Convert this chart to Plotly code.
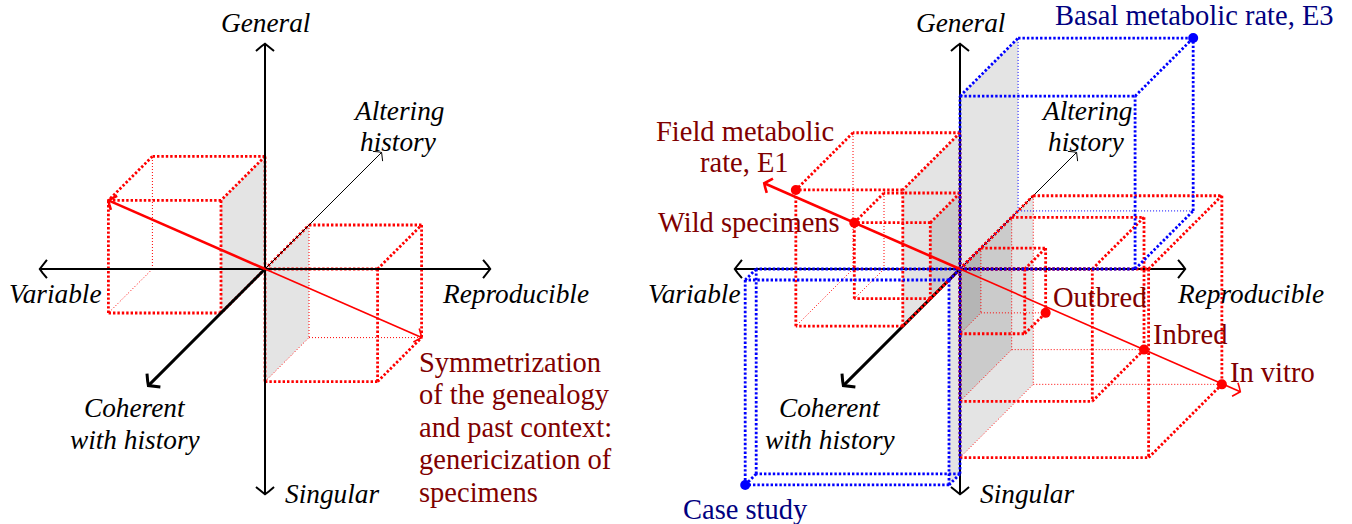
import math
import plotly.graph_objects as go

# ---------------- data ----------------
# 3D positions (units) of the box corners that sit opposite the origin.
left_box_x = [-2.0, 2.0]
left_box_y = [2.0, -2.0]
left_box_z = [-2.0, 2.0]
left_arrow_from = [-2.0, 2.0, -2.0]
left_arrow_to = [2.0, -2.0, 2.0]

right_labels = ["Field metabolic rate, E1", "Wild specimens", "Outbred", "Inbred",
                "In vitro", "Basal metabolic rate, E3", "Case study"]
right_kind = ["line", "line", "line", "line", "line", "extreme", "extreme"]
right_x = [-1.9, -1.35, 1.15, 2.35, 3.35, 3.11, -3.62]
right_y = [2.42, 1.35, -1.15, -2.35, -3.35, 3.07, -3.64]
right_z = [-2.6, -1.35, 0.95, 2.35, 3.33, 2.64, -0.5]
right_arrow_from = [-2.5, 2.5, -2.5]
right_arrow_to = [3.58, -3.58, 3.58]

axis_names = ["General", "Singular", "Variable", "Reproducible", "Coherent with history", "Altering history"]
left_caption = ["Symmetrization", "of the genealogy", "and past context:",
                "genericization of", "specimens"]

# ---------------- projection / styling ----------------
U = 56.3      # px per unit along X and Y
DZ = 22.0     # px per unit of depth (right and up)
AXIS_HALF = 4.0
DEPTH_HALF = 5.3
LEFT_O = (265.0, 269.0)
RIGHT_O = (960.0, 269.0)

RED = "#ff0000"
BLUE = "#0000ff"
DARKRED = "#800000"
DARKBLUE = "#000080"
FONT = "Liberation Serif"
KIND_COLOR = {"line": RED, "extreme": BLUE}
KIND_TEXT = {"line": DARKRED, "extreme": DARKBLUE}
ROMAN = 28.5
ITAL = 27.3

fig = go.Figure()


def proj(o, x, y, z):
    return (o[0] + x * U + z * DZ, o[1] - y * U - z * DZ)


def add_path(xs, ys, color, width, dash="solid"):
    fig.add_trace(go.Scatter(x=xs, y=ys, mode="lines",
                             line=dict(color=color, width=width, dash=dash),
                             hoverinfo="skip", showlegend=False))


def gray_face(o, a, b, c):
    pts = [proj(o, 0, 0, 0), proj(o, 0, b, 0), proj(o, 0, b, c), proj(o, 0, 0, c)]
    xs = [p[0] for p in pts] + [pts[0][0]]
    ys = [p[1] for p in pts] + [pts[0][1]]
    fig.add_trace(go.Scatter(x=xs, y=ys, mode="lines", line=dict(width=0, color="rgba(0,0,0,0)"),
                             fill="toself", fillcolor="rgba(0,0,0,0.105)",
                             hoverinfo="skip", showlegend=False))


def box(o, a, b, c, color, thin_hidden=True):
    xs_, ys_, zs_ = [0, a], [0, b], [0, c]
    hidden = (min(0, a), min(0, b), max(0, c))
    thick_x, thick_y, thin_x, thin_y = [], [], [], []
    corners = [(x, y, z) for x in xs_ for y in ys_ for z in zs_]
    seen = set()
    for p in corners:
        for q in corners:
            diff = sum(1 for i in range(3) if p[i] != q[i])
            if diff != 1:
                continue
            key = tuple(sorted([p, q]))
            if key in seen:
                continue
            seen.add(key)
            p1 = proj(o, *p)
            p2 = proj(o, *q)
            if thin_hidden and (p == hidden or q == hidden):
                thin_x += [p1[0], p2[0], None]
                thin_y += [p1[1], p2[1], None]
            else:
                thick_x += [p1[0], p2[0], None]
                thick_y += [p1[1], p2[1], None]
    if thin_x:
        add_path(thin_x, thin_y, color, 1.0, dash="1px,2px")
    add_path(thick_x, thick_y, color, 2.8, dash="2.4px,2px")


def arrow_head(tip, frm, color, width, scale=1.0):
    dx, dy = tip[0] - frm[0], tip[1] - frm[1]
    L = math.hypot(dx, dy)
    ux, uy = dx / L, dy / L
    nx, ny = -uy, ux
    shape = [(6.8, 8.6), (5.0, 6.6), (2.6, 3.6), (0.0, 0.0)]
    xs, ys = [], []
    for s in (1, -1):
        for back, side in (shape if s == 1 else shape[::-1]):
            xs.append(tip[0] - ux * back * scale + nx * side * s * scale)
            ys.append(tip[1] - uy * back * scale + ny * side * s * scale)
    add_path(xs, ys, color, width)


def arrow(p_from, p_to, color, width, scale=1.0, both=False):
    add_path([p_from[0], p_to[0]], [p_from[1], p_to[1]], color, width)
    arrow_head(p_to, p_from, color, width, scale)
    if both:
        arrow_head(p_from, p_to, color, width, scale)


def axes(o):
    arrow(proj(o, -AXIS_HALF, 0, 0), proj(o, AXIS_HALF, 0, 0), "black", 2.0, 1.05, both=True)
    arrow(proj(o, 0, -AXIS_HALF, 0), proj(o, 0, AXIS_HALF, 0), "black", 2.0, 1.05, both=True)
    arrow(proj(o, 0, 0, 0), proj(o, 0, 0, -DEPTH_HALF), "black", 3.0, 1.1)
    arrow(proj(o, 0, 0, 0), proj(o, 0, 0, DEPTH_HALF), "black", 1.0, 0.8)


# ---------------- left panel ----------------
for a, b, c in zip(left_box_x, left_box_y, left_box_z):
    gray_face(LEFT_O, a, b, c)
for a, b, c in zip(left_box_x, left_box_y, left_box_z):
    box(LEFT_O, a, b, c, RED)
axes(LEFT_O)
o0 = proj(LEFT_O, 0, 0, 0)
arrow(o0, proj(LEFT_O, *left_arrow_from), RED, 2.6, 0.9)
arrow(o0, proj(LEFT_O, *left_arrow_to), RED, 1.6, 0.85)

# ---------------- right panel ----------------
for a, b, c in zip(right_x, right_y, right_z):
    gray_face(RIGHT_O, a, b, c)
axes(RIGHT_O)
for lab, k, a, b, c in zip(right_labels, right_kind, right_x, right_y, right_z):
    if k == "line":
        box(RIGHT_O, a, b, c, KIND_COLOR[k])
for lab, k, a, b, c in zip(right_labels, right_kind, right_x, right_y, right_z):
    if k != "line":
        box(RIGHT_O, a, b, c, KIND_COLOR[k], thin_hidden=(lab != "Case study"))
o1 = proj(RIGHT_O, 0, 0, 0)
arrow(o1, proj(RIGHT_O, *right_arrow_from), RED, 2.6, 0.9)
arrow(o1, proj(RIGHT_O, *right_arrow_to), RED, 1.6, 0.85)

for k in ("line", "extreme"):
    pts = [proj(RIGHT_O, a, b, c) for kk, a, b, c in zip(right_kind, right_x, right_y, right_z) if kk == k]
    fig.add_trace(go.Scatter(x=[p[0] for p in pts], y=[p[1] for p in pts], mode="markers",
                             marker=dict(color=KIND_COLOR[k], size=10),
                             hoverinfo="skip", showlegend=False))

# ---------------- text ----------------
annots = []


def text(t, x, y, xanchor="center", color="black", size=ITAL, italic=False):
    if italic:
        t = "<i>" + t + "</i>"
    annots.append(dict(text=t, x=x, y=y, xref="x", yref="y", xanchor=xanchor,
                       yanchor="middle", showarrow=False,
                       font=dict(family=FONT, size=size, color=color)))


for o, dx_var, dx_rep, dx_coh, dx_alt in ((LEFT_O, -210, 250, -130, 133), (RIGHT_O, -266, 290, -130, 126)):
    text(axis_names[0], o[0], 23, italic=True)
    text(axis_names[1], o[0] + 18, 494, xanchor="left", italic=True)
    text(axis_names[2], o[0] + dx_var, 294, italic=True)
    text(axis_names[3], o[0] + dx_rep, 294, italic=True)
    text("Coherent", o[0] + dx_coh, 408, italic=True)
    text("with history", o[0] + dx_coh, 440, italic=True)
    text("Altering", o[0] + dx_alt, 111, italic=True)
    text("history", o[0] + dx_alt, 142, italic=True)

for i, line in enumerate(left_caption):
    text(line, 417, 362 + 32.5 * i, xanchor="left", color=DARKRED, size=ROMAN)

label_pos = {
    "Wild specimens": (-12, 0, "right"),
    "Outbred": (5, -15, "left"),
    "Inbred": (7, -15, "left"),
    "In vitro": (6, -12, "left"),
    "Basal metabolic rate, E3": (1, -23, "center"),
    "Case study": (0, 25, "center"),
}
for lab, k, a, b, c in zip(right_labels, right_kind, right_x, right_y, right_z):
    px, py = proj(RIGHT_O, a, b, c)
    if lab.startswith("Field"):
        w = lab.split(" ")
        text(" ".join(w[:2]), px - 51, py - 58, color=KIND_TEXT[k], size=ROMAN)
        text(" ".join(w[2:]), px - 51, py - 27, color=KIND_TEXT[k], size=ROMAN)
    else:
        dx, dy, anc = label_pos[lab]
        text(lab, px + dx, py + dy, xanchor=anc, color=KIND_TEXT[k], size=ROMAN)

fig.update_layout(
    width=1352, height=524,
    margin=dict(l=0, r=0, t=0, b=0),
    paper_bgcolor="white", plot_bgcolor="white",
    xaxis=dict(range=[0, 1352], visible=False, fixedrange=True),
    yaxis=dict(range=[524, 0], visible=False, fixedrange=True),
    annotations=annots,
)
fig.write_html("out.html", config={"displayModeBar": False},
               post_script="document.body.style.margin='0px';")
